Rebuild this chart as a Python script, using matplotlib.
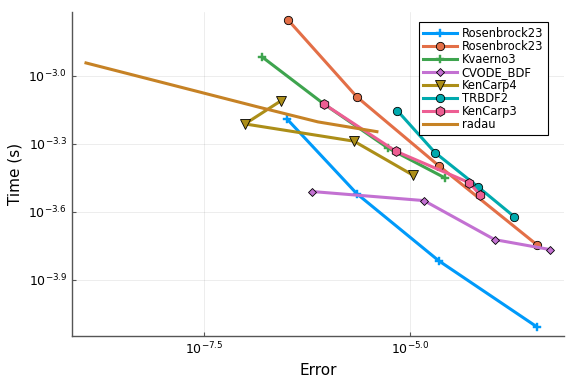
import numpy as np
import matplotlib
matplotlib.use("Agg")
import matplotlib.pyplot as plt
from matplotlib.ticker import FixedLocator, FixedFormatter, NullLocator

# log10 of error / time
ros23a_err = [-6.495, -5.645, -4.648, -3.457]
ros23a_time = [-3.190, -3.520, -3.816, -4.107]
ros23b_err = [-6.483, -5.645, -4.648, -3.457]
ros23b_time = [-2.753, -3.093, -3.397, -3.745]
kvaerno3_err = [-6.799, -6.046, -5.268, -4.575]
kvaerno3_time = [-2.916, -3.124, -3.318, -3.450]
cvode_err = [-6.188, -4.830, -3.971, -3.296]
cvode_time = [-3.510, -3.550, -3.722, -3.766]
kencarp4_err = [-6.564, -7.005, -5.681, -4.968]
kencarp4_time = [-3.109, -3.212, -3.288, -3.437]
trbdf2_err = [-5.155, -4.697, -4.178, -3.733]
trbdf2_time = [-3.153, -3.338, -3.488, -3.621]
kencarp3_err = [-6.046, -5.174, -4.280, -4.146]
kencarp3_time = [-3.124, -3.332, -3.471, -3.526]
radau_err = [-8.937, -6.848, -6.118, -5.402]
radau_time = [-2.943, -3.137, -3.203, -3.246]

xtick_exp = [-7.5, -5.0]
ytick_exp = [-3.0, -3.3, -3.6, -3.9]

series = [
    ("Rosenbrock23", ros23a_err, ros23a_time, "#009AFA", "P"),
    ("Rosenbrock23", ros23b_err, ros23b_time, "#E36F47", "o"),
    ("Kvaerno3", kvaerno3_err, kvaerno3_time, "#3EA44E", "P"),
    ("CVODE_BDF", cvode_err, cvode_time, "#C371D2", "D"),
    ("KenCarp4", kencarp4_err, kencarp4_time, "#AC8E18", "v"),
    ("TRBDF2", trbdf2_err, trbdf2_time, "#00AAAE", "o"),
    ("KenCarp3", kencarp3_err, kencarp3_time, "#ED5E93", "h"),
    ("radau", radau_err, radau_time, "#C68225", None),
]

fig = plt.figure(figsize=(5.76, 3.84), dpi=100)
ax = fig.add_axes([0.125, 0.125, 0.854, 0.844])

for name, err, t, col, mk in series:
    x = 10.0 ** np.array(err)
    y = 10.0 ** np.array(t)
    if mk is None:
        ax.plot(x, y, color=col, lw=2.2, label=name)
    elif mk == "P":
        ax.plot(x, y, color=col, lw=2.2, marker=mk, ms=5.5, mec=col, mew=0.3, label=name)
    else:
        ms = {"o": 6, "D": 4.5, "v": 6.5, "h": 7}[mk]
        ax.plot(x, y, color=col, lw=2.2, marker=mk, ms=ms, mec="black", mew=0.6, label=name)

ax.set_xscale("log")
ax.set_yscale("log")
ax.set_xlim(10 ** -9.107, 10 ** -3.13)
ax.set_ylim(10 ** -4.147, 10 ** -2.718)

ax.xaxis.set_major_locator(FixedLocator([10 ** e for e in xtick_exp]))
ax.xaxis.set_major_formatter(FixedFormatter([r"$10^{%.1f}$" % e for e in xtick_exp]))
ax.xaxis.set_minor_locator(NullLocator())
ax.yaxis.set_major_locator(FixedLocator([10 ** e for e in ytick_exp]))
ax.yaxis.set_major_formatter(FixedFormatter([r"$10^{%.1f}$" % e for e in ytick_exp]))
ax.yaxis.set_minor_locator(NullLocator())

ax.grid(True, color="black", alpha=0.1, lw=0.5)
for s in ["top", "right"]:
    ax.spines[s].set_visible(False)
for s in ["left", "bottom"]:
    ax.spines[s].set_color("#555555")
    ax.spines[s].set_linewidth(1.0)
ax.tick_params(direction="in", length=3, width=0.8, labelsize=9, color="#555555")

ax.set_xlabel("Error", fontsize=11)
ax.set_ylabel("Time (s)", fontsize=11)

leg = ax.legend(loc="upper right", bbox_to_anchor=(0.967, 0.968), fontsize=8.3,
                frameon=True, fancybox=False, edgecolor="black", framealpha=1,
                handlelength=2.9, labelspacing=0.0, borderpad=0.4, handletextpad=0.43,
                borderaxespad=0)
leg.get_frame().set_linewidth(0.8)

fig.savefig("out.png", dpi=100)
